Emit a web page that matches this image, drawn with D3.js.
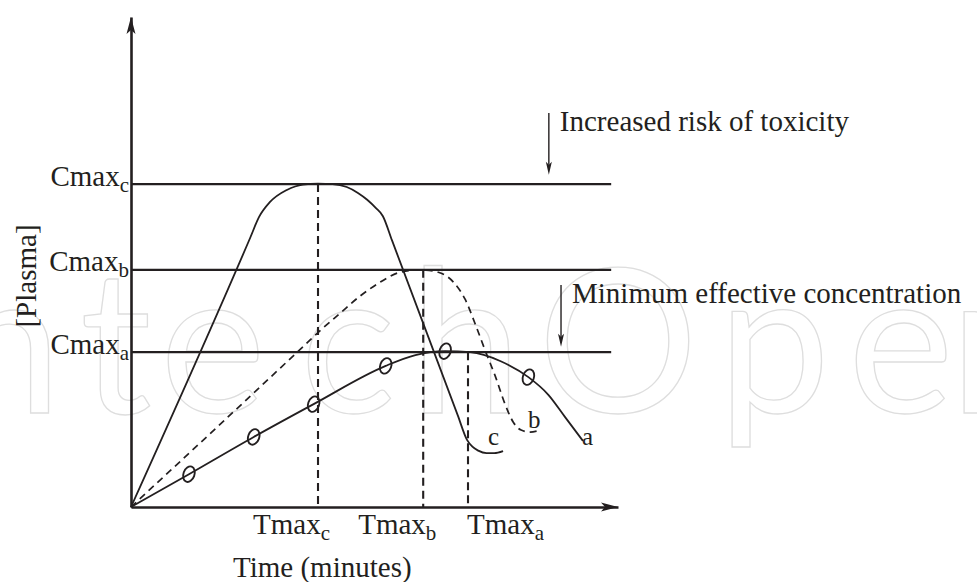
<!DOCTYPE html>
<html><head><meta charset="utf-8">
<script src="https://cdn.jsdelivr.net/npm/d3@7"></script>
<style>body{margin:0;background:#fff}svg{display:block}</style>
</head><body>
<svg id="chart" width="977" height="582"></svg>
<script>
// ---------------- data (time and concentration in arbitrary units) ----------------
const curveA = [[0,0],[11.9,6.7],[25.2,14.3],[37.5,21.0],[52.3,28.8],[58.4,31.0],[64.5,31.8],[69.7,31.6],[75.8,29.8],[81.6,26.5],[85.7,22.9],[89.1,18.4],[92.8,13.5]];
const markersA = [[11.9,6.7],[25.2,14.3],[37.5,21.0],[52.3,28.8],[64.5,31.8],[81.6,26.5]];
const curveB = [[0,0],[19.3,17.8],[36.9,34.2],[38.5,35.7],[43.0,39.6],[47.1,43.1],[51.2,45.9],[54.9,47.8],[59.4,48.4],[63.1,47.9],[66.2,45.9],[68.6,42.4],[70.7,37.3],[72.7,32.0],[74.8,26.7],[76.8,21.0],[78.5,17.3],[80.1,15.7],[82.0,15.3],[83.4,15.5]];
const curveC = [[0,0],[24.5,55.0],[26.3,59.2],[28.5,62.2],[32.0,64.7],[35.3,65.8],[38.4,66.0],[41.4,65.9],[44.3,65.3],[46.6,64.1],[48.5,62.7],[50.3,61.0],[51.7,59.4],[53.6,54.4],[67.1,18.7],[69.0,13.7],[70.1,12.3],[71.3,11.5],[73.0,11.0],[74.6,11.0],[76.4,11.4]];
const curveNames = ["a","b","c"];
const cmaxValues = [31.6, 48.4, 65.9];      // Cmax_a, Cmax_b, Cmax_c
const tmaxValues = [69.2, 60.0, 38.4];      // Tmax_a, Tmax_b, Tmax_c
const levelEnd = 98.6;
const annotations = ["Increased risk of toxicity", "Minimum effective concentration"];
const annotationX = [85.8, 88.3];
const annotationFrom = [80.4, 45.3];
const annotationTo = [67.8, 32.7];
const xTitle = "Time (minutes)";
const yTitle = "[Plasma]";
const watermarkText = "IntechOpen";

// ---------------- drawing ----------------
const svg = d3.select("#chart");
const ink = "#231f20";
const serif = "'Liberation Serif','Times New Roman',serif";
const x = d3.scaleLinear().domain([0,100]).range([131,618]);
const y = d3.scaleLinear().domain([0,100]).range([507,17]);

// watermark
svg.append("text")
  .attr("font-family","Lato,'Open Sans',sans-serif").attr("font-weight",400)
  .attr("font-size",200).attr("fill","none").attr("stroke","#dedede").attr("stroke-width",1.3)
  .attr("x",[-125,-50,80,160,300,410,538,718,848,950].join(" ")).attr("y",413)
  .text(watermarkText);

// axes
const gx = svg.append("g").attr("transform",`translate(0,${y(0)})`)
  .call(d3.axisBottom(x).tickValues([]).tickSizeOuter(0));
const gy = svg.append("g").attr("transform",`translate(${x(0)},0)`)
  .call(d3.axisLeft(y).tickValues([]).tickSizeOuter(0));
[gx,gy].forEach(g=>g.select(".domain").attr("stroke",ink).attr("stroke-width",2.6));
const ty = [x(0), y(100)], tx = [x(100), y(0)];
svg.append("path").attr("fill",ink)
  .attr("d",`M${ty[0]},${ty[1]}L${ty[0]+4.5},${ty[1]+17}L${ty[0]},${ty[1]+13}L${ty[0]-4.5},${ty[1]+17}Z`);
svg.append("path").attr("fill",ink)
  .attr("d",`M${tx[0]},${tx[1]}L${tx[0]-17},${tx[1]-4.5}L${tx[0]-13},${tx[1]}L${tx[0]-17},${tx[1]+4.5}Z`);

// Cmax levels
svg.selectAll("line.level").data(cmaxValues).join("line").attr("class","level")
  .attr("x1",x(0)).attr("x2",x(levelEnd)).attr("y1",d=>y(d)).attr("y2",d=>y(d))
  .attr("stroke",ink).attr("stroke-width",2.4);

// Tmax dashed verticals
svg.selectAll("line.tmax").data(tmaxValues).join("line").attr("class","tmax")
  .attr("x1",d=>x(d)).attr("x2",d=>x(d)).attr("y1",(d,i)=>y(cmaxValues[i])).attr("y2",y(0))
  .attr("stroke",ink).attr("stroke-width",2.1).attr("stroke-dasharray","8,5");

// curves
const line = d3.line().x(d=>x(d[0])).y(d=>y(d[1])).curve(d3.curveMonotoneX);
svg.append("path").attr("d",line(curveA)).attr("fill","none").attr("stroke",ink).attr("stroke-width",1.8);
svg.append("path").attr("d",line(curveB)).attr("fill","none").attr("stroke",ink).attr("stroke-width",1.7).attr("stroke-dasharray","7,5");
svg.append("path").attr("d",line(curveC)).attr("fill","none").attr("stroke",ink).attr("stroke-width",1.8);

// markers on curve a
svg.selectAll("ellipse.mk").data(markersA).join("ellipse").attr("class","mk")
  .attr("transform",d=>`translate(${x(d[0])},${y(d[1])}) rotate(20)`)
  .attr("rx",5.5).attr("ry",8).attr("fill","none").attr("stroke",ink).attr("stroke-width",1.9);

// curve labels
const curveLabelPos = [[582,445],[528,428],[488,445]];
svg.selectAll("text.cl").data(curveNames).join("text").attr("class","cl")
  .attr("x",(d,i)=>curveLabelPos[i][0]).attr("y",(d,i)=>curveLabelPos[i][1])
  .attr("font-family",serif).attr("font-size",25).attr("fill",ink).text(d=>d);

// Cmax labels
const cl = svg.selectAll("text.cmax").data(cmaxValues).join("text").attr("class","cmax")
  .attr("x",x(0)-2).attr("y",d=>y(d)+1.5).attr("text-anchor","end")
  .attr("font-family",serif).attr("font-size",29).attr("fill",ink);
cl.append("tspan").text("Cmax");
cl.append("tspan").attr("dy",6).attr("font-size",21).text((d,i)=>curveNames[i]);

// Tmax labels
const tmaxDx = [-1,-65,-65];
const tl = svg.selectAll("text.tmaxl").data(tmaxValues).join("text").attr("class","tmaxl")
  .attr("x",(d,i)=>x(d)+tmaxDx[i]).attr("y",y(0)+27)
  .attr("font-family",serif).attr("font-size",29).attr("fill",ink);
tl.append("tspan").text("Tmax");
tl.append("tspan").attr("dy",6).attr("font-size",21).text((d,i)=>curveNames[i]);

// axis titles
svg.append("text").attr("x",233).attr("y",577).attr("font-family",serif).attr("font-size",29).attr("fill",ink).text(xTitle);
svg.append("text").attr("transform","translate(36,276) rotate(-90)").attr("text-anchor","middle")
  .attr("font-family",serif).attr("font-size",29).attr("fill",ink).text(yTitle);

// annotations
annotations.forEach((t,i)=>{
  const ax = x(annotationX[i]);
  svg.append("line").attr("x1",ax).attr("x2",ax).attr("y1",y(annotationFrom[i])).attr("y2",y(annotationTo[i])-10)
    .attr("stroke",ink).attr("stroke-width",1.4);
  const tip = y(annotationTo[i]);
  svg.append("path").attr("fill",ink).attr("d",`M${ax},${tip}L${ax+3},${tip-13}L${ax},${tip-10}L${ax-3},${tip-13}Z`);
  svg.append("text").attr("x",ax+11).attr("y",y(annotationFrom[i])+18)
    .attr("font-family",serif).attr("font-size",29).attr("fill",ink).text(t);
});
</script>
</body></html>
